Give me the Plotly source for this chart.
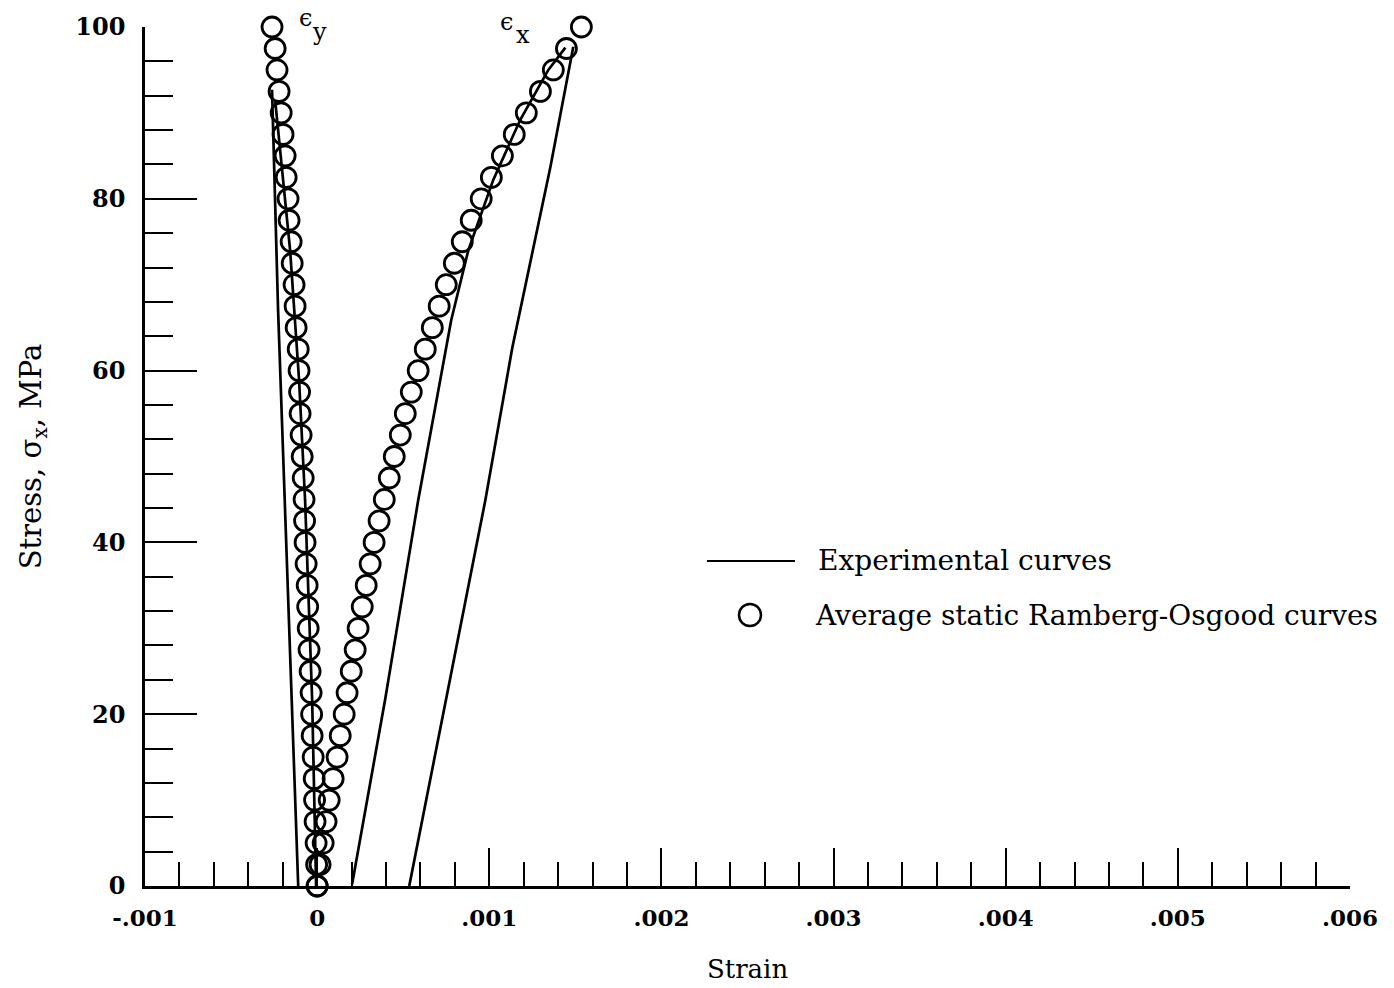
import plotly.graph_objects as go

# Ramberg-Osgood (circles), stress in MPa, strains
stress_ro = [0, 2.5, 5, 7.5, 10, 12.5, 15, 17.5, 20, 22.5, 25, 27.5, 30, 32.5, 35, 37.5, 40,
             42.5, 45, 47.5, 50, 52.5, 55, 57.5, 60, 62.5, 65, 67.5, 70, 72.5, 75, 77.5, 80,
             82.5, 85, 87.5, 90, 92.5, 95, 97.5, 100]
eps_y_ro = [0, -0.000003, -0.000006, -0.000012, -0.000015, -0.000017, -0.000023, -0.000029,
            -0.000032, -0.000035, -0.000041, -0.000047, -0.000052, -0.000055, -0.000058,
            -0.000064, -0.000070, -0.000073, -0.000076, -0.000081, -0.000087, -0.000093,
            -0.000099, -0.000102, -0.000105, -0.000110, -0.000122, -0.000128, -0.000134,
            -0.000145, -0.000151, -0.000163, -0.000169, -0.000180, -0.000186, -0.000198,
            -0.000209, -0.000221, -0.000233, -0.000244, -0.000262]
eps_x_ro = [0, 0.000017, 0.000035, 0.000052, 0.000070, 0.000093, 0.000116, 0.000134, 0.000157,
            0.000174, 0.000198, 0.000221, 0.000238, 0.000262, 0.000285, 0.000308, 0.000331,
            0.000360, 0.000390, 0.000419, 0.000448, 0.000483, 0.000512, 0.000547, 0.000587,
            0.000628, 0.000669, 0.000709, 0.000750, 0.000797, 0.000843, 0.000895, 0.000953,
            0.001012, 0.001076, 0.001145, 0.001215, 0.001297, 0.001372, 0.001448, 0.001535]

# experimental curves
exp_y1_strain = [-0.000110, -0.000169, -0.000227, -0.000262]
exp_y1_stress = [0, 33.3, 67.1, 92.7]
exp_y2_strain = [-0.000006, -0.000029, -0.000070, -0.000105, -0.000157, -0.000244]
exp_y2_stress = [0, 21.7, 44.9, 58.9, 74.0, 91.5]
exp_x1_strain = [0.000203, 0.000395, 0.000587, 0.000779, 0.000878, 0.001023, 0.001180,
                 0.001343, 0.001442]
exp_x1_stress = [0.2, 21.7, 44.9, 65.9, 74.0, 82.2, 89.2, 95.0, 97.6]
exp_x2_strain = [0.000535, 0.000747, 0.000977, 0.001134, 0.001355, 0.001488]
exp_x2_stress = [0, 21.7, 44.9, 62.7, 83.7, 97.7]

x_ticks = [-0.001, 0, 0.001, 0.002, 0.003, 0.004, 0.005, 0.006]
x_ticktext = ['<b>-.001</b>', '<b>0</b>', '<b>.001</b>', '<b>.002</b>', '<b>.003</b>',
              '<b>.004</b>', '<b>.005</b>', '<b>.006</b>']
y_ticks = [0, 20, 40, 60, 80, 100]
y_ticktext = ['<b>0</b>', '<b>20</b>', '<b>40</b>', '<b>60</b>', '<b>80</b>', '<b>100</b>']

FONT = 'DejaVu Serif'
fig = go.Figure()

for xs, ys in [(exp_y1_strain, exp_y1_stress), (exp_y2_strain, exp_y2_stress),
               (exp_x1_strain, exp_x1_stress), (exp_x2_strain, exp_x2_stress)]:
    fig.add_trace(go.Scatter(x=xs, y=ys, mode='lines', line=dict(color='black', width=2.7),
                             showlegend=False, cliponaxis=False))

for xs in [eps_y_ro, eps_x_ro]:
    fig.add_trace(go.Scatter(x=xs, y=stress_ro, mode='markers', showlegend=False,
                             cliponaxis=False,
                             marker=dict(symbol='circle-open', size=20, color='black',
                                         line=dict(color='black', width=2.8))))

fig.update_xaxes(
    range=[-0.001, 0.006], showgrid=False, zeroline=False, automargin='bottom',
    showline=True, linecolor='black', linewidth=2.5,
    ticks='inside', ticklen=38, tickwidth=2, tickcolor='black',
    tickvals=x_ticks, ticktext=x_ticktext, ticklabelstandoff=10,
    tickfont=dict(family=FONT, size=23, color='black'),
    minor=dict(dtick=0.0002, tick0=0, ticks='inside', ticklen=24, tickwidth=2, tickcolor='black'),
    title=dict(text='Strain', font=dict(family=FONT, size=26, color='black'), standoff=30),
)
fig.update_yaxes(
    range=[0, 100], showgrid=False, zeroline=False, automargin='left',
    showline=True, linecolor='black', linewidth=2.5,
    ticks='inside', ticklen=52, tickwidth=2, tickcolor='black',
    tickvals=y_ticks, ticktext=y_ticktext, ticklabelstandoff=12,
    tickfont=dict(family=FONT, size=24, color='black'),
    minor=dict(dtick=4, tick0=0, ticks='inside', ticklen=28, tickwidth=2, tickcolor='black'),
    title=dict(text='Stress, σ<sub>x</sub>, MPa', font=dict(family=FONT, size=29, color='black'),
               standoff=26),
)


# legend drawn by hand (long line key like the original); helpers map screen px to paper
def px_x(p):
    return (p - 145) / 1205.0


def px_y(p):
    return (886 - p) / 859.0


fig.add_shape(type='line', xref='paper', yref='paper', x0=px_x(707), x1=px_x(795),
              y0=px_y(561), y1=px_y(561), line=dict(color='black', width=2))
fig.add_shape(type='circle', xref='paper', yref='paper', x0=px_x(739), x1=px_x(761),
              y0=px_y(604), y1=px_y(626), line=dict(color='black', width=2.5))
fig.add_annotation(text='Experimental curves', xref='paper', yref='paper', x=px_x(816),
                   y=px_y(560), xanchor='left', yanchor='middle', showarrow=False,
                   font=dict(family=FONT, size=28, color='black'))
fig.add_annotation(text='Average static Ramberg-Osgood curves', xref='paper', yref='paper',
                   x=px_x(813), y=px_y(615), xanchor='left', yanchor='middle', showarrow=False,
                   font=dict(family=FONT, size=28, color='black'))

# curve labels
for txt, cx, cy in [('ϵ', 305, 18), ('y', 319, 32), ('ϵ', 506, 22), ('x', 523, 35)]:
    fig.add_annotation(text=txt, xref='paper', yref='paper', x=px_x(cx), y=px_y(cy),
                       xanchor='center', yanchor='middle', showarrow=False,
                       font=dict(family=FONT, size=24, color='black'))

fig.update_layout(
    width=1394, height=988,
    margin=dict(l=137, r=52, t=19, b=110),
    plot_bgcolor='white', paper_bgcolor='white',
)

fig.write_html('out.html')
